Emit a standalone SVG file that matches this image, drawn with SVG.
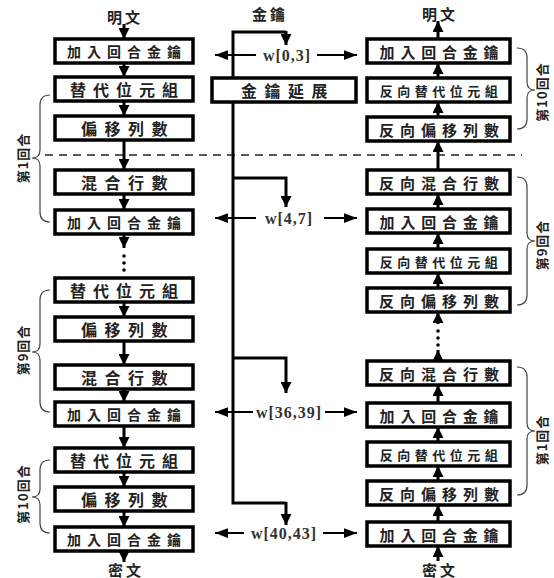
<svg xmlns="http://www.w3.org/2000/svg" width="554" height="578" viewBox="0 0 554 578">
<style>
.box{fill:#fff;stroke:#000;stroke-width:3.5}
.t{font-family:"Noto Sans CJK TC","Noto Sans CJK SC",sans-serif;font-weight:700;fill:#222;text-anchor:middle;dominant-baseline:central}
.k6{font-size:14px;letter-spacing:6px}
.k5{font-size:16px;letter-spacing:7px}
.k4{font-size:16px;letter-spacing:7.5px}
.r6{font-size:15px;letter-spacing:5.8px}
.r7{font-size:13px;letter-spacing:4.5px}
.rr{font-size:15px;letter-spacing:6px}
.io{font-size:15px;letter-spacing:3px}
.side{font-size:13px;letter-spacing:1px}
.w{font-family:"Liberation Serif",serif;font-weight:700;font-size:16px;fill:#333;text-anchor:middle;dominant-baseline:central;letter-spacing:1px}
.ar{stroke:#000;stroke-width:3;fill:none;marker-end:url(#ah)}
.wa{stroke:#000;stroke-width:2;fill:none;marker-end:url(#aw)}
.ln{stroke:#000;stroke-width:3;fill:none}
.br{stroke:#444;stroke-width:1.2;fill:none}
.dot{fill:#000}
</style>
<defs>
<marker id="ah" viewBox="0 0 10 10" refX="10" refY="5" markerWidth="11" markerHeight="11" markerUnits="userSpaceOnUse" orient="auto"><path d="M0,0 L10,5 L0,10 z" fill="#000"/></marker>
<marker id="aw" viewBox="0 0 12 9" refX="12" refY="4.5" markerWidth="13" markerHeight="10" markerUnits="userSpaceOnUse" orient="auto"><path d="M0,0 L12,4.5 L0,9 z" fill="#000"/></marker>
</defs>

<!-- dashed separator -->
<line x1="45" y1="155" x2="522" y2="155" stroke="#222" stroke-width="1.5" stroke-dasharray="8,6"/>

<g id="connectors">
  <!-- left column -->
  <line class="ar" x1="124" y1="24" x2="124" y2="39"/>
  <line class="ar" x1="124" y1="63" x2="124" y2="77"/>
  <line class="ar" x1="124" y1="101" x2="124" y2="116"/>
  <line class="ar" x1="124" y1="140" x2="124" y2="170"/>
  <line class="ar" x1="124" y1="194" x2="124" y2="210"/>
  <line class="ar" x1="124" y1="234" x2="124" y2="248"/>
  <circle class="dot" cx="124" cy="256" r="1.8"/>
  <circle class="dot" cx="124" cy="263" r="1.8"/>
  <circle class="dot" cx="124" cy="270" r="1.8"/>
  <line class="ar" x1="124" y1="302" x2="124" y2="317"/>
  <line class="ar" x1="124" y1="341" x2="124" y2="365"/>
  <line class="ar" x1="124" y1="389" x2="124" y2="402"/>
  <line class="ar" x1="124" y1="426" x2="124" y2="448"/>
  <line class="ar" x1="124" y1="472" x2="124" y2="487"/>
  <line class="ar" x1="124" y1="511" x2="124" y2="527"/>
  <line class="ar" x1="124" y1="551" x2="124" y2="562"/>
  <!-- right column -->
  <line class="ar" x1="438" y1="39" x2="438" y2="21"/>
  <line class="ar" x1="438" y1="78" x2="438" y2="63"/>
  <line class="ar" x1="438" y1="117" x2="438" y2="102"/>
  <line class="ar" x1="438" y1="170" x2="438" y2="141"/>
  <line class="ar" x1="438" y1="209" x2="438" y2="194"/>
  <line class="ar" x1="438" y1="249" x2="438" y2="233"/>
  <line class="ar" x1="438" y1="288" x2="438" y2="273"/>
  <line class="ar" x1="438" y1="324" x2="438" y2="312"/>
  <circle class="dot" cx="438" cy="331" r="1.8"/>
  <circle class="dot" cx="438" cy="338" r="1.8"/>
  <circle class="dot" cx="438" cy="345" r="1.8"/>
  <line class="ar" x1="438" y1="361" x2="438" y2="350"/>
  <line class="ar" x1="438" y1="403" x2="438" y2="385"/>
  <line class="ar" x1="438" y1="442" x2="438" y2="427"/>
  <line class="ar" x1="438" y1="481" x2="438" y2="466"/>
  <line class="ar" x1="438" y1="522" x2="438" y2="505"/>
  <line class="ar" x1="438" y1="561" x2="438" y2="546"/>
  <!-- key schedule trunk -->
  <polyline class="ln" points="286,32 233,32 233,503 286,503"/>
  <line class="ar" x1="286" y1="31" x2="286" y2="45"/>
  <polyline class="ar" points="233,178 286,178 286,207"/>
  <polyline class="ar" points="233,358 286,358 286,393"/>
  <line class="ar" x1="286" y1="502" x2="286" y2="525"/>
  <!-- round-key arrows -->
  <line class="wa" x1="256" y1="55" x2="215" y2="55"/>
  <line class="wa" x1="317" y1="55" x2="357" y2="55"/>
  <line class="wa" x1="256" y1="218" x2="215" y2="218"/>
  <line class="wa" x1="324" y1="218" x2="357" y2="218"/>
  <line class="wa" x1="253" y1="412" x2="215" y2="412"/>
  <line class="wa" x1="325" y1="412" x2="357" y2="412"/>
  <line class="wa" x1="244" y1="533" x2="215" y2="533"/>
  <line class="wa" x1="323" y1="533" x2="357" y2="533"/>
</g>

<g id="labels">
  <text class="t io" x="125" y="16">明文</text>
  <text class="t io" x="126" y="569">密文</text>
  <text class="t io" x="270" y="13">金鑰</text>
  <text class="t io" x="440" y="13">明文</text>
  <text class="t io" x="440" y="569">密文</text>
  <text class="w" x="287" y="55">w[0,3]</text>
  <text class="w" x="289" y="218">w[4,7]</text>
  <text class="w" x="289" y="412">w[36,39]</text>
  <text class="w" x="284" y="533">w[40,43]</text>
</g>

<g id="keyexp"><rect class="box" x="212" y="78" width="144" height="24"/><text class="t k4" x="288" y="90">金鑰延展</text></g>

<!-- left column nodes -->
<g id="L1"><rect class="box" x="55" y="39" width="138" height="24"/><text class="t k6" x="127" y="51">加入回合金鑰</text></g>
<g id="L2"><rect class="box" x="55" y="77" width="138" height="24"/><text class="t k5" x="127.5" y="89">替代位元組</text></g>
<g id="L3"><rect class="box" x="55" y="116" width="138" height="24"/><text class="t k4" x="128" y="128">偏移列數</text></g>
<g id="L4"><rect class="box" x="55" y="170" width="138" height="24"/><text class="t k4" x="128" y="182">混合行數</text></g>
<g id="L5"><rect class="box" x="55" y="210" width="138" height="24"/><text class="t k6" x="127" y="222">加入回合金鑰</text></g>
<g id="L6"><rect class="box" x="55" y="278" width="138" height="24"/><text class="t k5" x="127.5" y="290">替代位元組</text></g>
<g id="L7"><rect class="box" x="55" y="317" width="138" height="24"/><text class="t k4" x="128" y="329">偏移列數</text></g>
<g id="L8"><rect class="box" x="55" y="365" width="138" height="24"/><text class="t k4" x="128" y="377">混合行數</text></g>
<g id="L9"><rect class="box" x="55" y="402" width="138" height="24"/><text class="t k6" x="127" y="414">加入回合金鑰</text></g>
<g id="L10"><rect class="box" x="55" y="448" width="138" height="24"/><text class="t k5" x="127.5" y="460">替代位元組</text></g>
<g id="L11"><rect class="box" x="55" y="487" width="138" height="24"/><text class="t k4" x="128" y="499">偏移列數</text></g>
<g id="L12"><rect class="box" x="55" y="527" width="138" height="24"/><text class="t k6" x="127" y="539">加入回合金鑰</text></g>

<!-- right column nodes -->
<g id="R1"><rect class="box" x="367" y="39" width="143" height="24"/><text class="t r6" x="442" y="51">加入回合金鑰</text></g>
<g id="R2"><rect class="box" x="367" y="78" width="143" height="24"/><text class="t r7" x="441" y="90">反向替代位元組</text></g>
<g id="R3"><rect class="box" x="367" y="117" width="143" height="24"/><text class="t rr" x="442" y="129">反向偏移列數</text></g>
<g id="R4"><rect class="box" x="367" y="170" width="143" height="24"/><text class="t rr" x="442" y="182">反向混合行數</text></g>
<g id="R5"><rect class="box" x="367" y="209" width="143" height="24"/><text class="t r6" x="442" y="221">加入回合金鑰</text></g>
<g id="R6"><rect class="box" x="367" y="249" width="143" height="24"/><text class="t r7" x="441" y="261">反向替代位元組</text></g>
<g id="R7"><rect class="box" x="367" y="288" width="143" height="24"/><text class="t rr" x="442" y="300">反向偏移列數</text></g>
<g id="R8"><rect class="box" x="367" y="361" width="143" height="24"/><text class="t rr" x="442" y="373">反向混合行數</text></g>
<g id="R9"><rect class="box" x="367" y="403" width="143" height="24"/><text class="t r6" x="442" y="415">加入回合金鑰</text></g>
<g id="R10"><rect class="box" x="367" y="442" width="143" height="24"/><text class="t r7" x="441" y="454">反向替代位元組</text></g>
<g id="R11"><rect class="box" x="367" y="481" width="143" height="24"/><text class="t rr" x="442" y="493">反向偏移列數</text></g>
<g id="R12"><rect class="box" x="367" y="522" width="143" height="24"/><text class="t r6" x="442" y="534">加入回合金鑰</text></g>

<!-- round braces -->
<g id="brace-left-1"><path class="br" d="M50,95 Q40,95 40,105 L40,150 Q40,158 32,158 Q40,158 40,166 L40,212 Q40,222 50,222"/><text class="t side" transform="translate(22,158) rotate(-90)">第1回合</text></g>
<g id="brace-left-9"><path class="br" d="M50,290 Q40,290 40,300 L40,344 Q40,352 32,352 Q40,352 40,360 L40,402 Q40,412 50,412"/><text class="t side" transform="translate(22,350) rotate(-90)">第9回合</text></g>
<g id="brace-left-10"><path class="br" d="M50,460 Q40,460 40,470 L40,489 Q40,497 32,497 Q40,497 40,505 L40,523 Q40,533 50,533"/><text class="t side" transform="translate(22,494) rotate(-90)">第10回合</text></g>
<g id="brace-right-10"><path class="br" d="M517,48 Q527,48 527,58 L527,82 Q527,90 535,90 Q527,90 527,98 L527,119 Q527,129 517,129"/><text class="t side" transform="translate(541,92) rotate(-90)">第10回合</text></g>
<g id="brace-right-9"><path class="br" d="M517,177 Q527,177 527,187 L527,233 Q527,241 535,241 Q527,241 527,249 L527,295 Q527,305 517,305"/><text class="t side" transform="translate(541,245) rotate(-90)">第9回合</text></g>
<g id="brace-right-1"><path class="br" d="M517,367 Q527,367 527,377 L527,423 Q527,431 535,431 Q527,431 527,439 L527,485 Q527,495 517,495"/><text class="t side" transform="translate(541,440) rotate(-90)">第1回合</text></g>
</svg>
